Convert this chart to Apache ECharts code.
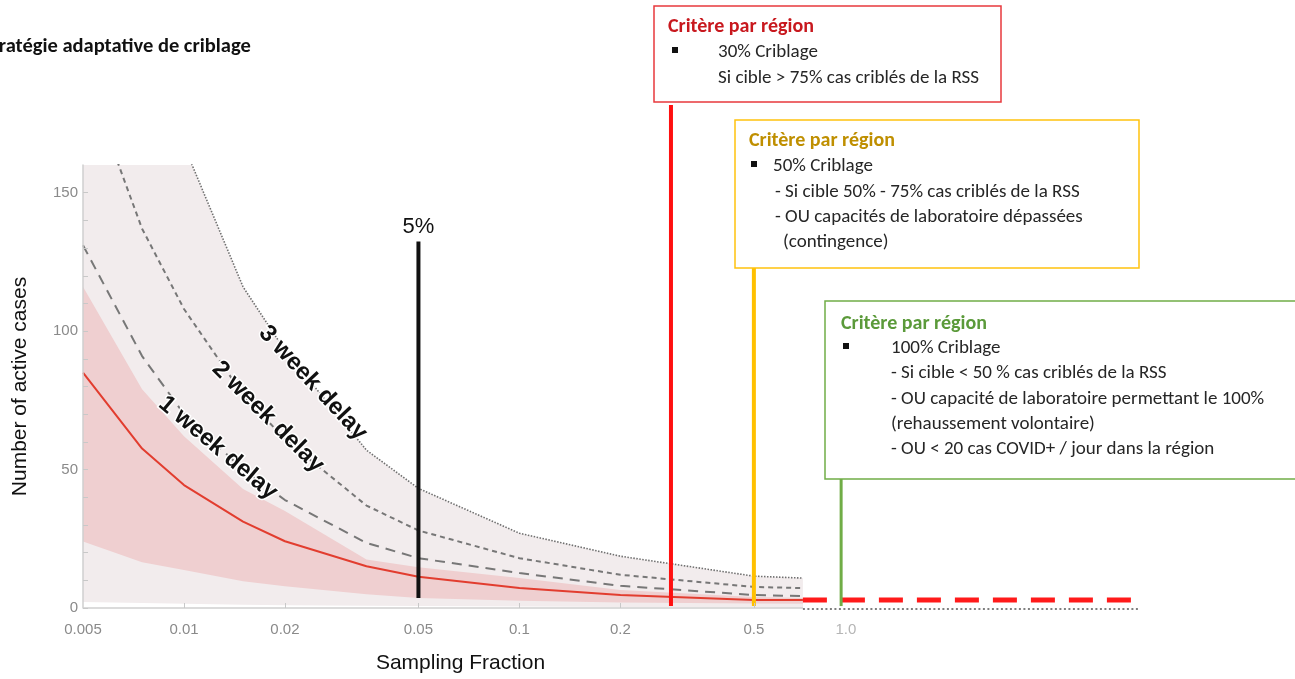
<!DOCTYPE html>
<html><head><meta charset="utf-8">
<script src="https://cdn.jsdelivr.net/npm/echarts@6/dist/echarts.min.js"></script>
<style>html,body{margin:0;padding:0;background:#fff}#c{width:1295px;height:679px}</style>
</head><body><div id="c"></div>
<script>
// ---- data ----
const fractions = [0.005, 0.0075, 0.01, 0.015, 0.02, 0.035, 0.05, 0.1, 0.2, 0.5, 0.7];
const median1w  = [85, 57.6, 44.4, 31.2, 24.1, 15.1, 11.3, 7.2, 4.7, 2.9, 2.9];
const ci1wLow   = [24, 16.5, 13.7, 9.7, 7.9, 5.0, 3.6, 2.6, 2.0, 1.6, 1.5];
const ci1wHigh  = [116, 79, 62, 43, 35, 17.5, 14.7, 10.8, 6.5, 4.0, 3.6];
const delay1w   = [131, 91, 70, 50, 39, 23.5, 18, 12.6, 8.0, 4.7, 4.3];
const delay2w   = [195, 137, 108, 77, 61, 37, 28, 18, 12, 7.6, 7.2];
const delay3w   = [300, 210, 167, 116, 93, 57, 43.2, 27, 18.7, 11.5, 10.8];
const envLow    = [2.2, 1.8, 1.5, 1.2, 1.0, 0.8, 0.7, 0.5, 0.4, 0.3, 0.3];

const xTickFractions = [0.005, 0.01, 0.02, 0.05, 0.1, 0.2, 0.5, 0.94];
const xTickLabels    = ['0.005', '0.01', '0.02', '0.05', '0.1', '0.2', '0.5', '1.0'];
const xMinorTicks    = [0.01, 0.02, 0.05, 0.1, 0.2, 0.5];
const yLabelValues   = [0, 50, 100, 150];
const yTickValues    = [0,10,20,30,40,50,60,70,80,90,100,110,120,130,140,150];

const xDomain = [0.005, 7.08];
const yDomain = [0, 160];
const axisEnd = 0.7;             // end of the model axis
const plateauLevel = 2.9;        // red dashed continuation

// vertical criterion lines: fraction, bottom value, top value
const vlineNames  = ['5%', '30%', '50%', '100%'];
const vlineX      = [0.05, 0.283, 0.5, 0.91];
const vlineBottom = [3.6, 0.7, 0.7, 0.7];
const vlineTop    = [132.4, 181.7, 123, 46.8];

const curveLabels = ['1 week delay', '2 week delay', '3 week delay'];

// ---- chart ----
const lx = v => Math.log10(v);
const pts = arr => fractions.map((f, i) => [lx(f), arr[i]]);

const sans = "'Liberation Sans', Arial, sans-serif";
const cal = "Carlito, Lato, sans-serif";

const chart = echarts.init(document.getElementById('c'), null, {renderer: 'canvas'});

const base = {type: 'line', symbol: 'none', silent: true, animation: false};
const area = (name, arr, color) => Object.assign({}, base, {name: name, data: pts(arr),
  lineStyle: {width: 0, opacity: 0}, areaStyle: {color: color, opacity: 1}, z: 1});
const series = [
  area('envelope', delay3w, '#f2eced'),
  area('ci high', ci1wHigh, '#efcfd0'),
  area('ci low', ci1wLow, '#f2eced'),
  area('env low', envLow, '#ffffff'),
  Object.assign({}, base, {name: curveLabels[2], data: pts(delay3w), lineStyle: {color: '#707070', width: 1.6, type: [1.5, 1.5]}, z: 3}),
  Object.assign({}, base, {name: curveLabels[1], data: pts(delay2w), lineStyle: {color: '#777', width: 2, type: [5, 4]}, z: 3}),
  Object.assign({}, base, {name: curveLabels[0], data: pts(delay1w), lineStyle: {color: '#777', width: 2, type: [10, 7]}, z: 3}),
  Object.assign({}, base, {name: 'median', data: pts(median1w), lineStyle: {color: '#e23d2f', width: 2}, z: 4}),
  Object.assign({}, base, {name: 'axis', clip: false, data: [[lx(xDomain[0]), 0], [lx(axisEnd), 0]],
    lineStyle: {color: '#cfcfcf', width: 1.5}, z: 5}),
  Object.assign({}, base, {name: 'axisExt', clip: false, data: [[lx(axisEnd), -0.35], [lx(xDomain[1]), -0.35]],
    lineStyle: {color: '#555', width: 1.5, type: [2, 2.5]}, z: 5}),
  Object.assign({}, base, {name: 'plateau', clip: false, data: [[lx(axisEnd), plateauLevel], [lx(xDomain[1]), plateauLevel]],
    lineStyle: {color: '#ff1a1a', width: 5, type: [24, 14]}, z: 6})
];
const vColors = ['#111', '#ff1010', '#ffc000', '#70ad47'];
const vWidths = [4, 4, 4, 3];
vlineX.forEach((x, i) => {
  const s = Object.assign({}, base, {
    name: vlineNames[i], clip: false, z: 7,
    lineStyle: {color: vColors[i], width: vWidths[i]},
    data: [[lx(x), vlineBottom[i]], [lx(x), vlineTop[i]]]
  });
  if (i === 0) {
    s.markPoint = {silent: true, animation: false, symbol: 'circle', symbolSize: 0,
      data: [{coord: [lx(x), vlineTop[i]], value: vlineNames[i]}],
      label: {show: true, position: 'top', distance: 3, formatter: vlineNames[i], color: '#111', fontSize: 22, fontFamily: sans}};
  }
  series.push(s);
});

function boxText(x, y, text, opt) {
  return {type: 'text', x: x, y: y, z: 100,
    style: Object.assign({text: text, font: '19px ' + cal, fill: '#262626', align: 'left', verticalAlign: 'middle'}, opt || {})};
}
function bullet(x, y) {
  return {type: 'rect', z: 100, shape: {x: x, y: y - 3, width: 6, height: 6}, style: {fill: '#111'}};
}
function curveLabel(x, y, rot, text) {
  return {type: 'text', x: x, y: y, rotation: rot, z: 50,
    style: {text: text, font: 'bold 24px ' + sans, fill: '#111', align: 'center', verticalAlign: 'middle',
      stroke: '#fff', lineWidth: 3}};
}
const bold = {font: 'bold 20px ' + cal};

const graphic = [
  {type: 'text', x: -18, y: 47, z: 100, style: {text: 'Stratégie adaptative de criblage', font: 'bold 20.5px ' + cal,
    fill: '#111', align: 'left', verticalAlign: 'middle'}},
  curveLabel(313, 383, -0.82, curveLabels[2]),
  curveLabel(268, 417, -0.78, curveLabels[1]),
  curveLabel(218, 448, -0.70, curveLabels[0]),
  // red box
  {type: 'rect', z: 90, shape: {x: 654, y: 6, width: 347, height: 96}, style: {fill: '#fff', stroke: '#e8393d', lineWidth: 1.5}},
  boxText(668, 27, 'Critère par région', Object.assign({fill: '#c8181e'}, bold)),
  bullet(672, 50),
  boxText(718, 52, '30% Criblage'),
  boxText(718, 78, 'Si cible > 75% cas criblés de la RSS'),
  // yellow box
  {type: 'rect', z: 90, shape: {x: 735, y: 120, width: 404, height: 148}, style: {fill: '#fff', stroke: '#ffc20e', lineWidth: 1.5}},
  boxText(749, 141, 'Critère par région', Object.assign({fill: '#bf8f00'}, bold)),
  bullet(751, 164),
  boxText(773, 166, '50% Criblage'),
  boxText(775, 192, '- Si cible 50% - 75% cas criblés de la RSS'),
  boxText(775, 217, '- OU capacités de laboratoire dépassées'),
  boxText(783, 242, '(contingence)'),
  // green box
  {type: 'rect', z: 90, shape: {x: 825, y: 301, width: 472, height: 178}, style: {fill: '#fff', stroke: '#70ad47', lineWidth: 1.5}},
  boxText(841, 324, 'Critère par région', Object.assign({fill: '#5b9a3a'}, bold)),
  bullet(843, 346),
  boxText(891, 348, '100% Criblage'),
  boxText(891, 373, '- Si cible < 50 % cas criblés de la RSS'),
  boxText(891, 399, '- OU capacité de laboratoire permettant le 100%'),
  boxText(891, 424, '(rehaussement volontaire)'),
  boxText(891, 449, '- OU < 20 cas COVID+ / jour dans la région')
];

chart.setOption({
  animation: false,
  backgroundColor: '#fff',
  grid: {left: 83, right: 155, top: 165, bottom: 69, containLabel: false},
  xAxis: {
    type: 'value', min: lx(xDomain[0]), max: lx(xDomain[1]), z: 10,
    splitLine: {show: false},
    axisLine: {show: false, onZero: false},
    axisTick: {show: true, inside: true, length: 5, customValues: xMinorTicks.map(lx), lineStyle: {color: '#c8c8c8'}},
    axisLabel: {
      customValues: xTickFractions.map(lx), margin: 14, fontSize: 15, fontFamily: sans, color: '#8a8a8a',
      formatter: v => {
        const i = xTickFractions.findIndex(f => Math.abs(lx(f) - v) < 1e-6);
        if (i < 0) return '';
        return i === xTickLabels.length - 1 ? '{l|' + xTickLabels[i] + '}' : xTickLabels[i];
      },
      rich: {l: {color: '#b5b5b5', fontSize: 15, fontFamily: sans}}
    },
    name: 'Sampling Fraction', nameLocation: 'middle', nameGap: 45,
    nameTextStyle: {fontSize: 21, fontFamily: sans, color: '#111', padding: [0, 302, 0, 0]}
  },
  yAxis: {
    type: 'value', min: yDomain[0], max: yDomain[1], z: 10,
    splitLine: {show: false},
    axisLine: {show: true, onZero: false, lineStyle: {color: '#cfcfcf', width: 1.5}},
    axisTick: {show: true, inside: true, length: 5, customValues: yTickValues, lineStyle: {color: '#c8c8c8'}},
    axisLabel: {customValues: yLabelValues, margin: 5, fontSize: 15, fontFamily: sans, color: '#8a8a8a'},
    name: 'Number of active cases', nameLocation: 'middle', nameGap: 52,
    nameTextStyle: {fontSize: 21, fontFamily: sans, color: '#111'}
  },
  series: series,
  graphic: graphic
});
</script></body></html>
